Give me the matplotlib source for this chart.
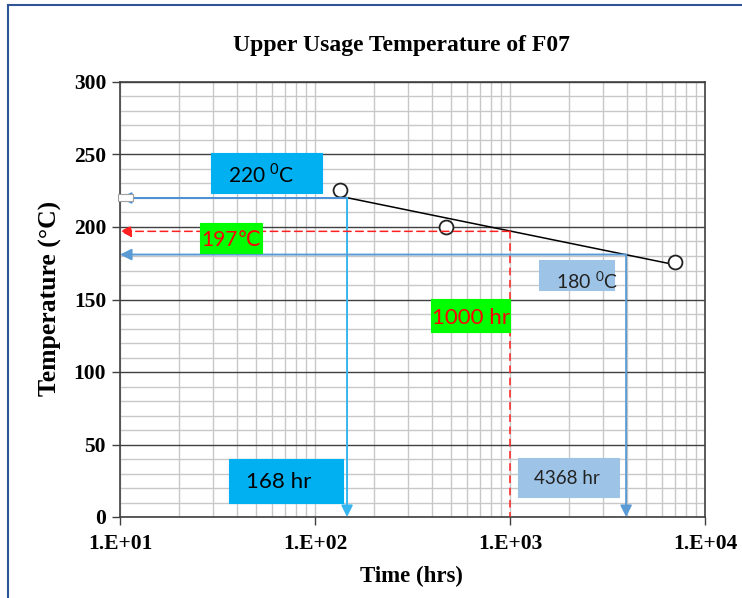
import numpy as np
import matplotlib
matplotlib.use("Agg")
import matplotlib.pyplot as plt
from matplotlib.ticker import LogLocator, MultipleLocator, FuncFormatter, NullFormatter
from matplotlib.patches import Rectangle
from matplotlib.lines import Line2D

# measured points (hours, deg C)
hours = [134, 470, 7000]
temps = [225.5, 200, 176]

# annotation values
t_220 = 146      # where the 220 C guide drops to the time axis
y_220 = 220
t_197 = 1000
y_197 = 197
t_180 = 3940
y_180 = 181

plt.rcParams["mathtext.fontset"] = "custom"
plt.rcParams["mathtext.rm"] = "Lato"

W, H = 742, 598
fig = plt.figure(figsize=(W / 100, H / 100), dpi=100)
ax = fig.add_axes([120 / W, 1 - 517 / H, 585 / W, 435 / H])

serif = "Liberation Serif"
sans = ["Lato", "DejaVu Sans"]
dark = "#404040"

ax.set_xscale("log")
ax.set_xlim(10, 1e4)
ax.set_ylim(0, 300)

ax.yaxis.set_major_locator(MultipleLocator(50))
ax.yaxis.set_minor_locator(MultipleLocator(10))
ax.xaxis.set_major_locator(LogLocator(base=10))
ax.xaxis.set_minor_locator(LogLocator(base=10, subs=np.arange(2, 10)))
ax.xaxis.set_minor_formatter(NullFormatter())
ax.xaxis.set_major_formatter(FuncFormatter(lambda v, p: "1.E+%02d" % round(np.log10(v))))

ax.grid(True, axis="y", which="minor", color="#c8c8c8", lw=1.0, zorder=0)
ax.grid(True, axis="y", which="major", color=dark, lw=1.0, zorder=0)
ax.grid(True, axis="x", which="both", color="#c8c8c8", lw=1.0, zorder=0)
ax.set_axisbelow(True)

for s in ax.spines.values():
    s.set_color(dark)
    s.set_linewidth(1.2)

ax.tick_params(axis="both", which="major", colors=dark, length=6, width=1.0,
               labelcolor="black", labelsize=15.5)
ax.tick_params(axis="both", which="minor", length=0)
ax.tick_params(axis="y", pad=4)
ax.tick_params(axis="x", pad=6)
for lab in ax.get_xticklabels() + ax.get_yticklabels():
    lab.set_fontfamily(serif)
    lab.set_fontweight("bold")

# trend line (log-linear fit through the points)
b, a = np.polyfit(np.log10(hours), temps, 1)
tx = np.array([hours[0], hours[-1]])
ax.plot(tx, a + b * np.log10(tx), color="black", lw=1.1, zorder=3)
ax.plot(hours, temps, "o", ms=10, mfc="white", mec="#222222", mew=1.3, zorder=4)

# guide arrows
def arrow(x0, y0, x1, y1, color, ls="-", lw=1.4):
    ax.annotate("", xy=(x1, y1), xytext=(x0, y0), zorder=5,
                arrowprops=dict(arrowstyle="-|>", color=color, lw=lw, ls=ls,
                                mutation_scale=17, shrinkA=0, shrinkB=0))

arrow(t_220, y_220, 10, y_220, "#4a8fd4")
arrow(t_220, y_220, t_220, 0, "#35b6ee")
arrow(t_197, y_197, 10, y_197, "#ff2020", ls=(0, (5, 3)), lw=1.1)
ax.plot([t_197, t_197], [y_197, 0], color="#ff2020", lw=1.1, ls=(0, (5, 3)), zorder=5)
arrow(t_180, y_180, 10, y_180, "#5b9bd5")
arrow(t_180, y_180, t_180, 0, "#5b9bd5")

# boxes drawn in figure pixels (x0, y0, x1, y1 from the top-left)
def box(x0, y0, x1, y1, face, edge=None):
    fig.add_artist(Rectangle((x0 / W, 1 - y1 / H), (x1 - x0) / W, (y1 - y0) / H,
                             transform=fig.transFigure, facecolor=face,
                             edgecolor=edge or face, lw=0.8, zorder=10))

def label(x, y, s, color, size=13, ha="left"):
    fig.text(x / W, 1 - y / H, s, color=color, fontsize=size, ha=ha, va="center",
             family=sans, zorder=11)

box(118, 194, 133, 201, "white", "#a0a0a0")

box(211, 153, 322, 193, "#00b0f0")
label(228, 175, r"220 $^{\mathrm{0}}$C", "black", 15)

box(200, 223, 262, 253, "#00ff00")
label(201, 240, "197\u2103", "#ff0000", 15)

box(539, 260, 614, 290, "#9dc3e6")
label(556, 281, r"180 $^{\mathrm{0}}$C", "#222222", 14)

box(431, 299, 510, 332, "#00ff00")
label(432, 318, "1000 hr", "#ff0000", 16)

box(229, 459, 343, 503, "#00b0f0")
label(246, 482, "168 hr", "black", 16)

box(518, 458, 619, 497, "#9dc3e6")
label(534, 479, "4368 hr", "#222222", 13.5)

fig.text(401 / W, 1 - 45 / H, "Upper Usage Temperature of F07", family=serif,
         fontweight="bold", fontsize=17, ha="center", va="center")
fig.text(411 / W, 1 - 576 / H, "Time (hrs)", family=serif, fontweight="bold",
         fontsize=16.5, ha="center", va="center")
fig.text(50 / W, 1 - 298 / H, "Temperature (\u00b0C)", family=serif, fontweight="bold",
         fontsize=18.5, ha="center", va="center", rotation=90)

# blue frame on top and left
fig.add_artist(Line2D([8 / W, 1], [1 - 5 / H, 1 - 5 / H], transform=fig.transFigure,
                      color="#2f5597", lw=1.5))
fig.add_artist(Line2D([8 / W, 8 / W], [0, 1 - 5 / H], transform=fig.transFigure,
                      color="#2f5597", lw=1.5))

fig.savefig("out.png", dpi=100, facecolor="white")
